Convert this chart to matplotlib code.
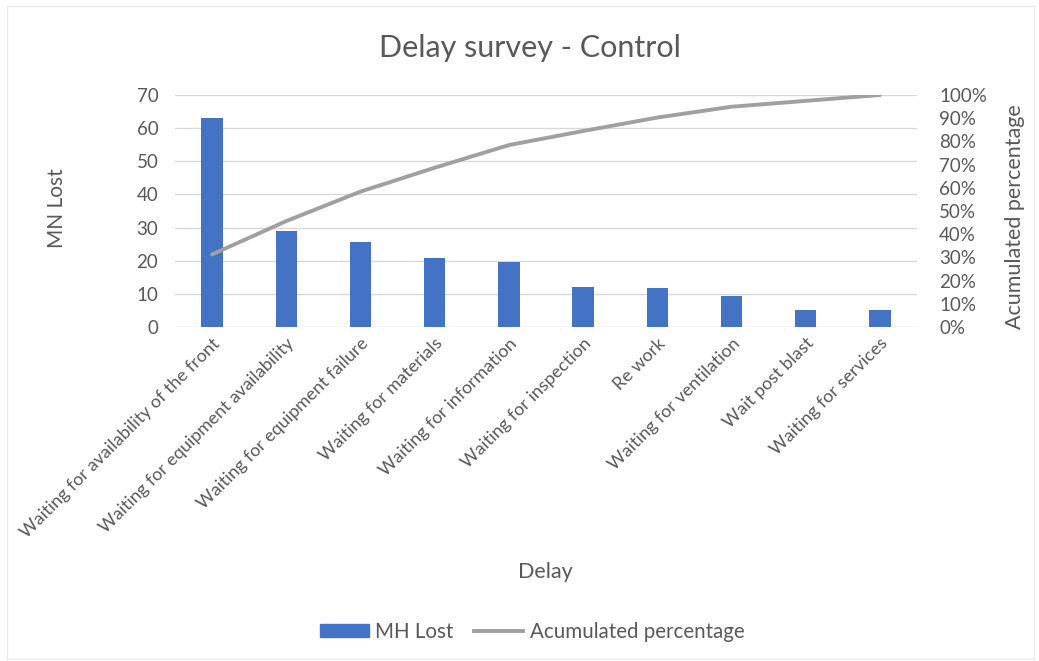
import matplotlib
matplotlib.use("Agg")
import matplotlib.pyplot as plt
from matplotlib.patches import Rectangle
from matplotlib.lines import Line2D
from matplotlib.patches import Patch
import numpy as np

plt.rcParams['font.family'] = ['Lato', 'DejaVu Sans']

categories = [
    "Waiting for availability of the front",
    "Waiting for equipment availability",
    "Waiting for equipment failure",
    "Waiting for materials",
    "Waiting for information",
    "Waiting for inspection",
    "Re work",
    "Waiting for ventilation",
    "Wait post blast",
    "Waiting for services",
]
mh_lost = [63, 29, 25.6, 20.7, 19.7, 12.2, 11.7, 9.4, 5.1, 5.1]

cum_pct = np.cumsum(mh_lost) / np.sum(mh_lost) * 100

TEXT = "#595959"
BAR = "#4472C4"
LINE = "#A0A0A0"
GRID = "#D9D9D9"

fig = plt.figure(figsize=(10.39, 6.61), dpi=100)
fig.patches.append(Rectangle((0.007, 0.003), 0.988, 0.988, transform=fig.transFigure,
                             fill=False, edgecolor="#ECECEC", linewidth=1.0))

ax = fig.add_axes([0.1684, 0.5053, 0.7142, 0.3510])
x = np.arange(len(categories))
ax.bar(x, mh_lost, width=0.29, color=BAR, zorder=2)
ax.set_xlim(-0.5, len(categories) - 0.5)
ax.set_ylim(0, 70)
ax.set_yticks(range(0, 71, 10))
ax.grid(axis="y", color=GRID, linewidth=1.0, zorder=0)
ax.set_axisbelow(True)
for s in ax.spines.values():
    s.set_visible(False)
ax.tick_params(axis="both", length=0, colors=TEXT)
ax.tick_params(axis="y", labelsize=13.5, pad=12)
ax.set_xticks(x)
ax.set_xticklabels(categories, rotation=45, ha="right", rotation_mode="anchor",
                   fontsize=13, color=TEXT)
ax.tick_params(axis="x", pad=6)

ax2 = ax.twinx()
ax2.plot(x, cum_pct, color=LINE, linewidth=2.8, zorder=3, solid_capstyle="round")
ax2.set_ylim(0, 100)
ax2.set_yticks(range(0, 101, 10))
ax2.set_yticklabels([f"{v}%" for v in range(0, 101, 10)])
for s in ax2.spines.values():
    s.set_visible(False)
ax2.tick_params(axis="y", length=0, colors=TEXT, labelsize=13.5, pad=16)

fig.text(0.0549, 0.685, "MN Lost", rotation=90, ha="center", va="center",
         fontsize=15, color=TEXT)
fig.text(0.977, 0.672, "Acumulated percentage", rotation=90, ha="center", va="center",
         fontsize=15.5, color=TEXT)
fig.text(0.5245, 0.1346, "Delay", ha="center", va="center", fontsize=15.5, color=TEXT)
fig.text(0.510, 0.928, "Delay survey - Control", ha="center", va="center",
         fontsize=22, color=TEXT)

handles = [Patch(facecolor=BAR, edgecolor=BAR, label="MH Lost"),
           Line2D([0], [0], color=LINE, linewidth=2.8, label="Acumulated percentage")]
fig.legend(handles=handles, loc="center", bbox_to_anchor=(0.512, 0.044), ncol=2,
           frameon=False, fontsize=14.8, labelcolor=TEXT, handlelength=2.4,
           handleheight=0.55, columnspacing=1.0, handletextpad=0.3)

fig.savefig("out.png", dpi=100, facecolor="white")
